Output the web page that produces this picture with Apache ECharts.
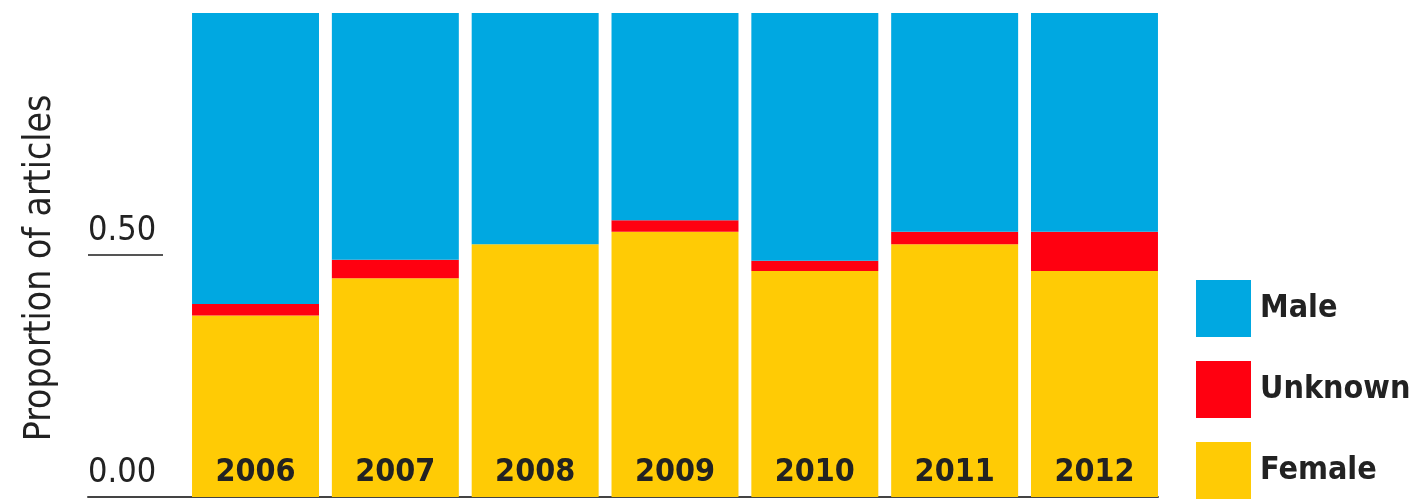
<!DOCTYPE html>
<html>
<head>
<meta charset="utf-8">
<script src="https://cdn.jsdelivr.net/npm/echarts@6/dist/echarts.min.js"></script>
<style>
html,body{margin:0;padding:0;background:#fff;}
#chart{width:1414px;height:504px;}
</style>
</head>
<body>
<div id="chart"></div>
<script>
const years = ['2006','2007','2008','2009','2010','2011','2012'];
const female  = [0.375, 0.452, 0.522, 0.548, 0.467, 0.522, 0.467];
const unknown = [0.024, 0.038, 0.000, 0.024, 0.021, 0.026, 0.081];
const male    = [0.601, 0.510, 0.478, 0.428, 0.512, 0.452, 0.452];
const yTickValues = [0, 0.5];
const legendOrder = ['Male', 'Unknown', 'Female'];

const FONT = 'DejaVu Sans Condensed';
const chart = echarts.init(document.getElementById('chart'), null, {renderer: 'canvas'});
chart.setOption({
  animation: false,
  backgroundColor: '#ffffff',
  grid: [
    {left: 185.6, right: 249.6, top: 13, bottom: 7},
    {left: 88, right: 256, top: 13, bottom: 7}
  ],
  legend: {
    data: legendOrder,
    orient: 'vertical',
    left: 1196,
    top: 280,
    height: 224,
    padding: 0,
    itemWidth: 55,
    itemHeight: 57,
    itemGap: 24,
    icon: 'rect',
    textStyle: {fontFamily: FONT, fontSize: 32, fontWeight: 'bold', color: '#222', padding: [12, 0, 0, 4]},
    selectedMode: false
  },
  xAxis: [
    {
      type: 'category',
      data: years,
      gridIndex: 0,
      z: 10,
      axisLine: {show: false},
      axisTick: {show: false},
      axisLabel: {inside: true, margin: 8, verticalAlign: 'bottom', fontFamily: FONT, fontSize: 32, fontWeight: 'bold', color: '#222'}
    },
    {
      type: 'value',
      gridIndex: 1,
      min: 0, max: 1,
      axisLine: {show: true, lineStyle: {color: '#444', width: 2}},
      axisTick: {show: false},
      axisLabel: {show: false},
      splitLine: {show: false}
    }
  ],
  yAxis: [
    {
      type: 'value',
      gridIndex: 0,
      min: 0, max: 1, interval: 0.5,
      offset: 22.6,
      axisLine: {show: false},
      splitLine: {show: false},
      axisTick: {show: true, customValues: [0.5], length: 75, lineStyle: {color: '#555', width: 2}},
      axisLabel: {
        customValues: yTickValues,
        formatter: v => v.toFixed(2),
        align: 'left', margin: 75, verticalAlign: 'bottom',
        padding: [0, 0, 7, 0],
        fontFamily: FONT, fontSize: 34, color: '#222'
      },
      name: 'Proportion of articles',
      nameLocation: 'middle',
      nameRotate: 90,
      nameGap: 104,
      nameTextStyle: {fontFamily: FONT, fontSize: 37, color: '#222', padding: [0, 26, 0, 0]}
    },
    {type: 'value', gridIndex: 1, show: false, min: 0, max: 1}
  ],
  series: [
    {name: 'Female', type: 'bar', stack: 's', data: female, barCategoryGap: '9.2%', itemStyle: {color: '#FFCB05'}},
    {name: 'Unknown', type: 'bar', stack: 's', data: unknown, itemStyle: {color: '#FF0010'}},
    {name: 'Male', type: 'bar', stack: 's', data: male, itemStyle: {color: '#00A8E1'}}
  ]
});
</script>
</body>
</html>
